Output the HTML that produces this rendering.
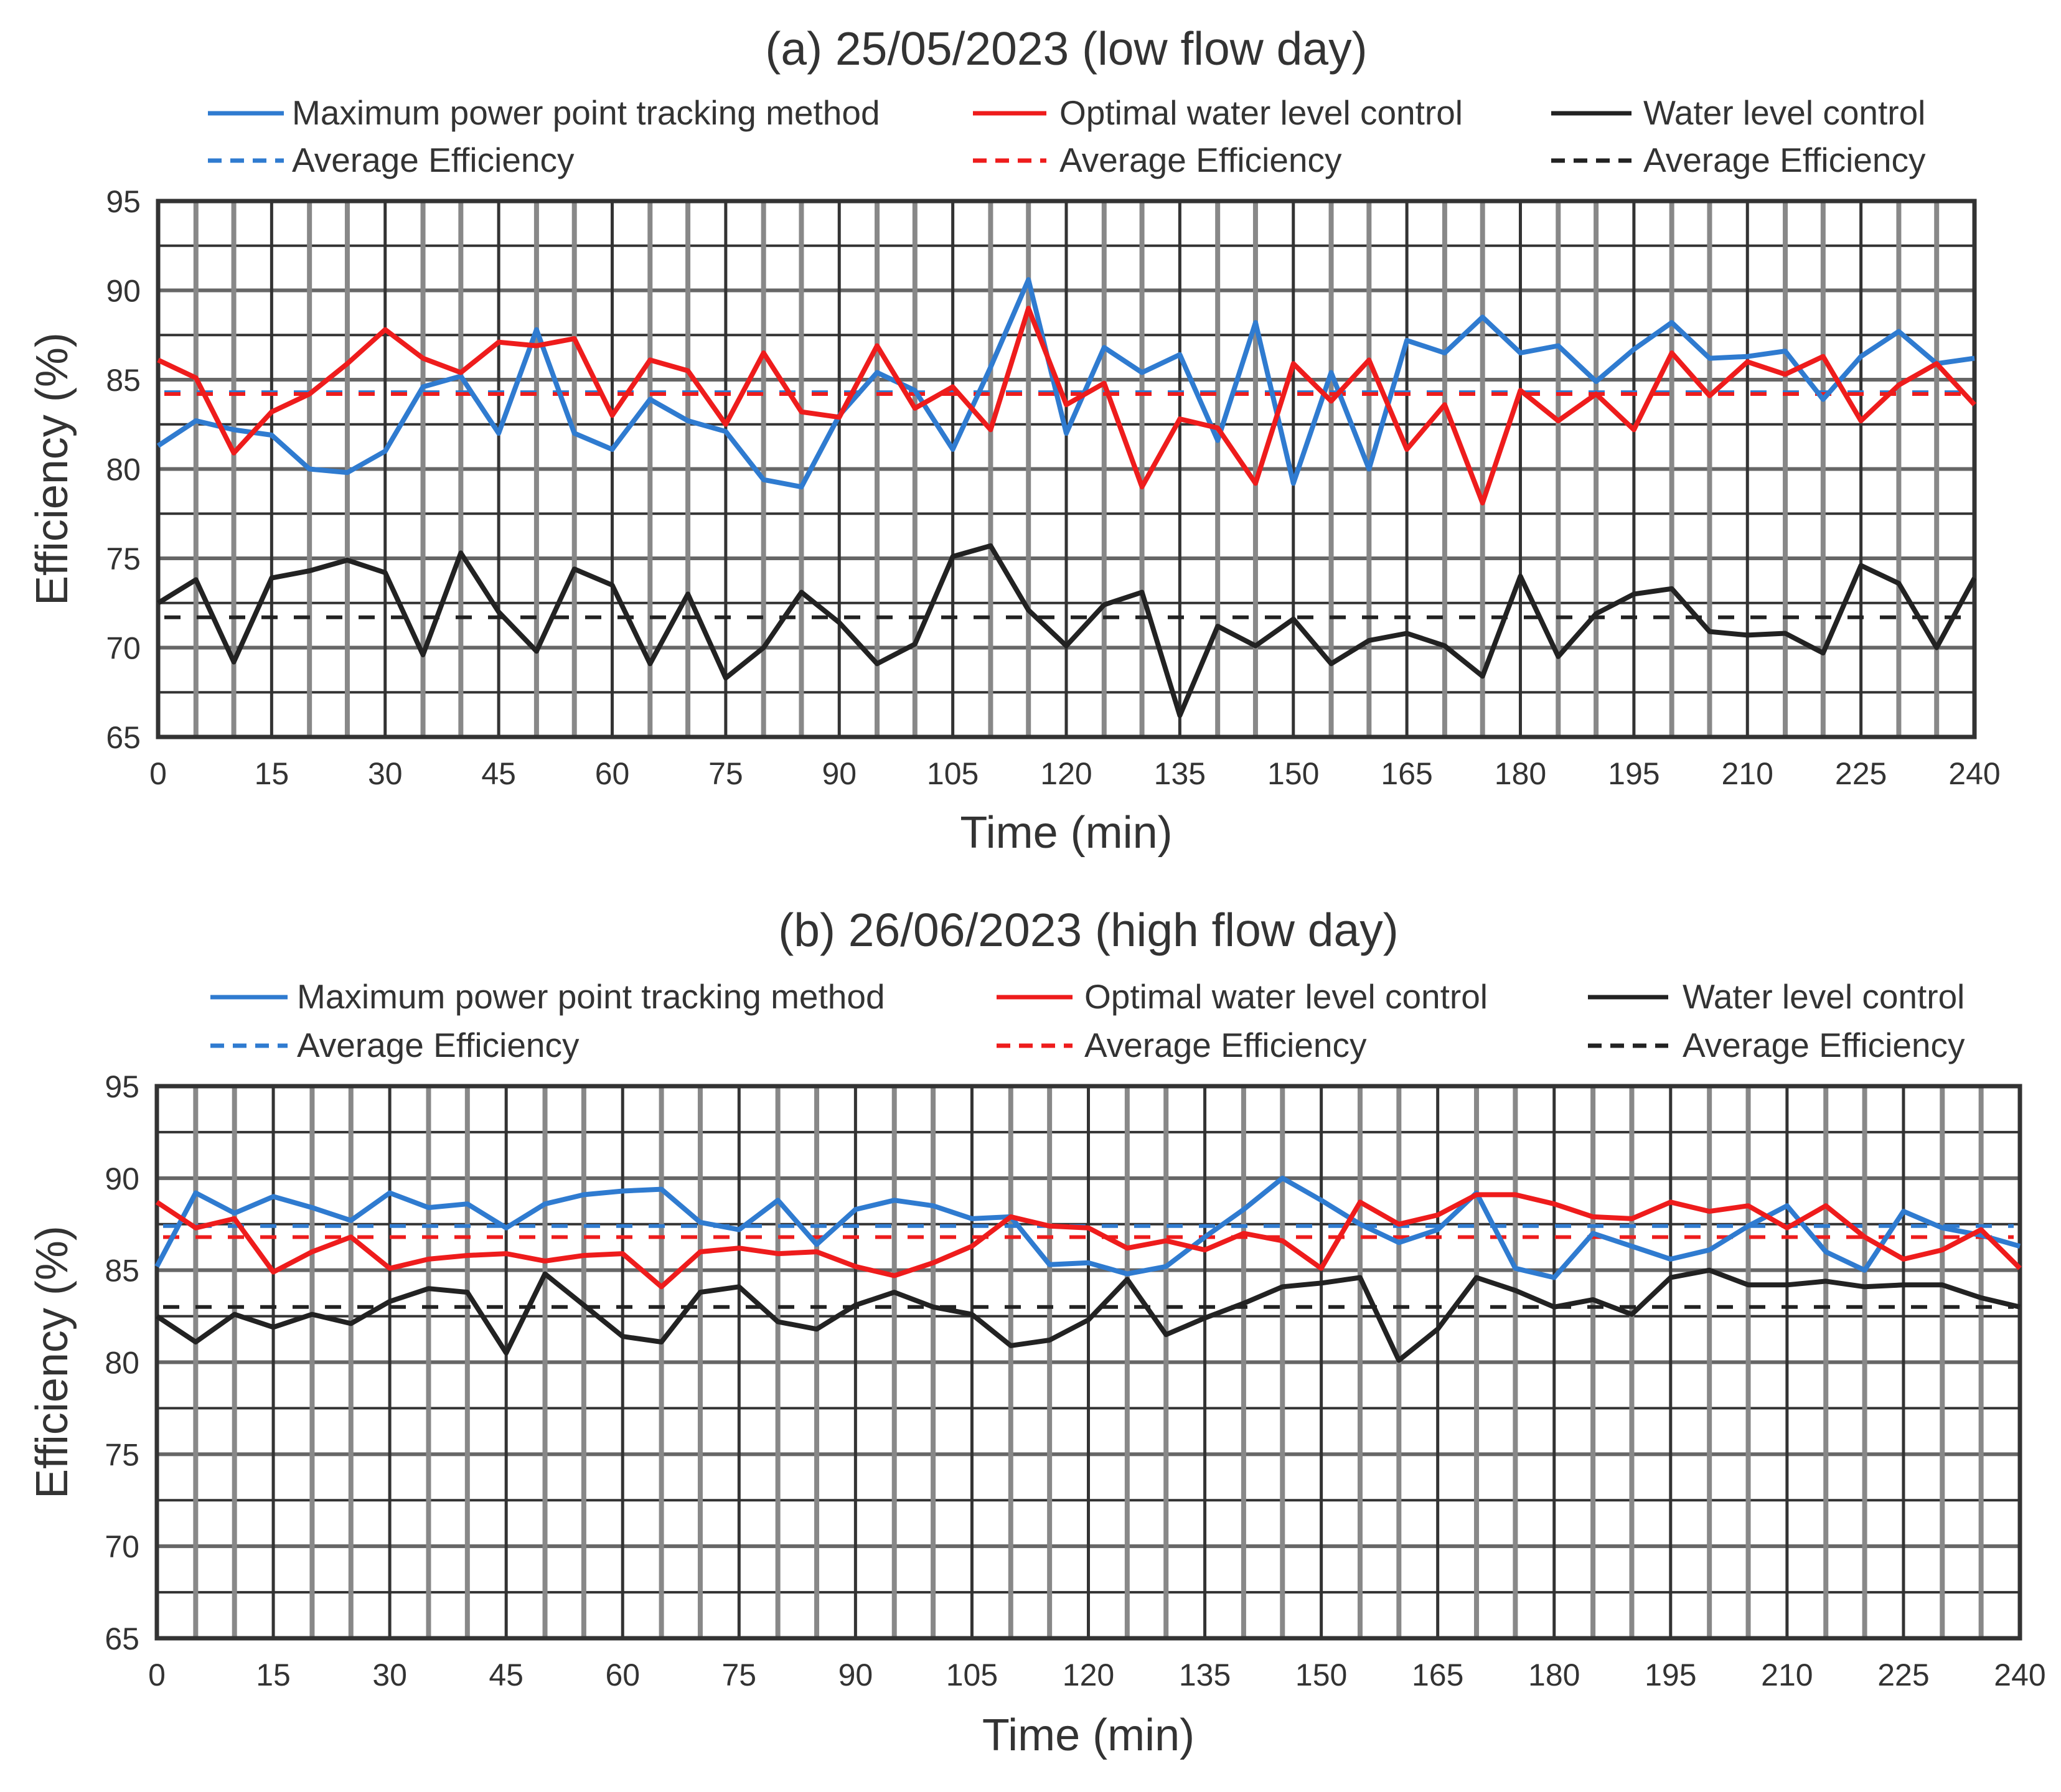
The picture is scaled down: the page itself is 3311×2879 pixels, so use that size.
<!DOCTYPE html>
<html><head><meta charset="utf-8"><style>
body{margin:0;background:#fff}
svg{display:block}
text{font-family:"Liberation Sans",sans-serif;fill:#333}
</style></head><body>
<svg id="chart" width="3311" height="2879" viewBox="0 0 3311 2879" xmlns="http://www.w3.org/2000/svg"></svg>
<script>
const timesMin = [];
for (let t = 0; t <= 240; t += 5) timesMin.push(t);
const xTicks = [0,15,30,45,60,75,90,105,120,135,150,165,180,195,210,225,240];
const yTicks = [65,70,75,80,85,90,95];

const aMppt = [81.3,82.7,82.2,81.9,80,79.8,81,84.6,85.2,82,87.8,82,81.1,83.9,82.7,82.1,79.4,79,83,85.4,84.4,81.1,85.7,90.6,82,86.8,85.4,86.4,81.6,88.2,79.2,85.4,80,87.2,86.5,88.5,86.5,86.9,84.9,86.7,88.2,86.2,86.3,86.6,83.9,86.3,87.7,85.9,86.2];
const aOwlc = [86.1,85.1,80.9,83.2,84.2,85.9,87.8,86.2,85.4,87.1,86.9,87.3,83,86.1,85.5,82.5,86.5,83.2,82.9,86.9,83.4,84.6,82.2,89,83.6,84.8,79,82.8,82.3,79.2,85.9,83.8,86.1,81.1,83.6,78.1,84.4,82.7,84.2,82.2,86.5,84.1,86,85.3,86.3,82.7,84.7,85.9,83.6];
const aWlc = [72.5,73.8,69.2,73.9,74.3,74.9,74.2,69.6,75.3,72,69.8,74.4,73.5,69.1,73,68.3,70,73.1,71.4,69.1,70.2,75.1,75.7,72.1,70.1,72.4,73.1,66.2,71.2,70.1,71.6,69.1,70.4,70.8,70.1,68.4,74,69.5,71.9,73,73.3,70.9,70.7,70.8,69.7,74.6,73.6,70,73.9];
const aAvg = [84.3,84.2,71.7];

const bMppt = [85.2,89.2,88.1,89,88.4,87.7,89.2,88.4,88.6,87.3,88.6,89.1,89.3,89.4,87.6,87.2,88.8,86.4,88.3,88.8,88.5,87.8,87.9,85.3,85.4,84.8,85.2,86.8,88.3,90,88.8,87.5,86.5,87.2,89.2,85.1,84.6,87,86.3,85.6,86.1,87.4,88.5,86,85,88.2,87.3,86.9,86.3];
const bOwlc = [88.7,87.3,87.8,84.9,86,86.8,85.1,85.6,85.8,85.9,85.5,85.8,85.9,84.1,86,86.2,85.9,86,85.2,84.7,85.4,86.3,87.9,87.4,87.3,86.2,86.6,86.1,87,86.6,85.1,88.7,87.5,88,89.1,89.1,88.6,87.9,87.8,88.7,88.2,88.5,87.3,88.5,86.8,85.6,86.1,87.2,85.1];
const bWlc = [82.5,81.1,82.6,81.9,82.6,82.1,83.3,84,83.8,80.5,84.8,83.1,81.4,81.1,83.8,84.1,82.2,81.8,83.1,83.8,83,82.6,80.9,81.2,82.3,84.5,81.5,82.4,83.2,84.1,84.3,84.6,80.1,81.8,84.6,83.9,83,83.4,82.6,84.6,85,84.2,84.2,84.4,84.1,84.2,84.2,83.5,83];
const bAvg = [87.4,86.8,83.0];

const seriesNames = ["Maximum power point tracking method","Optimal water level control","Water level control"];
const colors = ["#2f7bd0","#ee1c1c","#222"];
const NS = "http://www.w3.org/2000/svg";
const svg = document.getElementById("chart");
function mk(tag, attrs, parent, txt){
  const e = document.createElementNS(NS, tag);
  for (const k in attrs) e.setAttribute(k, attrs[k]);
  if (txt !== undefined) e.textContent = txt;
  (parent || svg).appendChild(e);
  return e;
}

function panel(cfg){
  const g = mk("g", {});
  
  
  const xs = t => cfg.x0 + (t/240)*(cfg.x1 - cfg.x0);
  const ys = v => cfg.yb + (v-65)/30*(cfg.yt - cfg.yb);
  const title = mk("text", {x:(cfg.x0+cfg.x1)/2, y:cfg.titleY, "font-size":75, "text-anchor":"middle"}, g, cfg.title);
  
  
  for (let i=0;i<3;i++){
    const L = cfg.leg[i];
    for (let r=0;r<2;r++){
      const y = r===0 ? cfg.legY1 : cfg.legY2;
      const ln = mk("line", {x1:L[0], x2:L[1], y1:y, y2:y, stroke:colors[i], "stroke-width":7, "stroke-dasharray": r===1 ? "22,14":"none"}, g);
      
      
      const tx = mk("text", {x:L[2], y:y+18, "font-size":55}, g, r===0 ? seriesNames[i] : "Average Efficiency");
      
      
    }
  }
  for (let k=1;k<12;k++){
    const v = 65 + k*2.5;
    const gl = mk("line", {x1:cfg.x0, x2:cfg.x1, y1:ys(v), y2:ys(v), stroke: k%2===0 ? "#666" : "#333", "stroke-width": k%2===0 ? 6 : 4}, g);
    
    
  }
  for (const t of timesMin){
    if (t===0||t===240) continue;
    const gl = mk("line", {x1:xs(t), x2:xs(t), y1:cfg.yt, y2:cfg.yb, stroke: t%15===0 ? "#333" : "#888", "stroke-width": t%15===0 ? 5 : 8}, g);
    
    
  }
  const fr = mk("rect", {x:cfg.x0, y:cfg.yt, width:cfg.x1-cfg.x0, height:cfg.yb-cfg.yt, fill:"none", stroke:"#333", "stroke-width":7}, g);
  
  
  for (const v of yTicks){
    const t = mk("text", {x:cfg.x0-28, y:ys(v)+18, "font-size":50, "text-anchor":"end"}, g, v);
    
    
  }
  for (const v of xTicks){
    const t = mk("text", {x:xs(v), y:cfg.yb+76, "font-size":50, "text-anchor":"middle"}, g, v);
    
    
  }
  const xt = mk("text", {x:(cfg.x0+cfg.x1)/2, y:cfg.xTitleY, "font-size":72, "text-anchor":"middle"}, g, "Time (min)");
  
  
  const cy = (cfg.yt+cfg.yb)/2;
  const yt = mk("text", {x:108, y:cy, "font-size":72, "text-anchor":"middle", transform:`rotate(-90 108 ${cy})`}, g, "Efficiency (%)");
  
  
  for (let i=0;i<3;i++){
    const al = mk("line", {x1:cfg.x0+10, x2:cfg.x1-10, y1:ys(cfg.avg[i]), y2:ys(cfg.avg[i]), stroke:colors[i], "stroke-width":6, "stroke-dasharray":"26,26"}, g);
    
    
  }
  const order = [2,0,1];
  for (const i of order){
    const d = cfg.series[i].map((v,k)=>(k?"L":"M")+xs(timesMin[k]).toFixed(1)+","+ys(v).toFixed(1)).join(" ");
    const p = mk("path", {d, fill:"none", stroke:colors[i], "stroke-width":8, "stroke-linejoin":"round"}, g);
    
    
  }
}

panel({id:"panel-a", title:"(a) 25/05/2023 (low flow day)", titleY:104, x0:254, x1:3172, yt:323, yb:1184,
  legY1:182, legY2:258, leg:[[334,456,469],[1563,1681,1702],[2492,2621,2640]],
  xTitleY:1362, avg:aAvg, series:[aMppt,aOwlc,aWlc]});
panel({id:"panel-b", title:"(b) 26/06/2023 (high flow day)", titleY:1520, x0:252, x1:3245, yt:1745, yb:2632,
  legY1:1602, legY2:1680, leg:[[338,462,477],[1601,1723,1742],[2551,2680,2703]],
  xTitleY:2812, avg:bAvg, series:[bMppt,bOwlc,bWlc]});
</script>
</body></html>
